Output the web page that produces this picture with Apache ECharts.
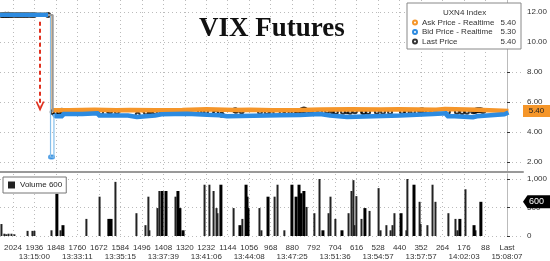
<!DOCTYPE html>
<html><head><meta charset="utf-8">
<script src="https://cdn.jsdelivr.net/npm/echarts@6/dist/echarts.min.js"></script>
<style>html,body{margin:0;padding:0;background:#fff}#c{width:550px;height:261px}</style>
</head><body><div id="c"></div>
<script>
// ---- tick labels ----
const tickLabels = [2024,1936,1848,1760,1672,1584,1496,1408,1320,1232,1144,1056,968,880,792,704,616,528,440,352,264,176,88,0];
const timeTicks = [1936,1760,1584,1408,1232,1056,880,704,528,352,176,0];
const timeTexts = ['13:15:00','13:33:11','13:35:15','13:37:39','13:41:06','13:44:08','13:47:25','13:51:36','13:54:57','13:57:57','14:02:03','15:08:07'];
const priceTicks = [2,4,6,8,10,12];
const volumeTicks = [0,500,1000];
const seriesNames = ['Ask Price - Realtime','Bid Price - Realtime','Last Price'];
const indexName = 'UXN4 Index';

// ---- price data: [ticks before last, price] ----
const askPre = [[2077,11.82],[1880,11.82]];
const askPost = [[1864,5.45],[1790,5.48],[1690,5.45],[1600,5.47],[1545,5.45],[1440,5.47],[1330,5.52],[1230,5.46],[1120,5.48],[1050,5.45],[960,5.47],[848,5.5],[760,5.52],[640,5.5],[520,5.52],[440,5.48],[290,5.54],[254,5.48],[125,5.40],[-6,5.40]];
const bidPre = [[2077,11.82],[1880,11.82]];
const bidSpike = [[1870,2.33],[1862,2.33]];
const bidPost = [[1856,5.2],[1850,5.05],[1820,5.2],[1740,5.25],[1674,5.1],[1553,5.0],[1516,5.1],[1442,5.18],[1415,5.22],[1311,5.15],[1229,5.12],[1176,5.05],[1147,5.12],[930,5.13],[848,5.2],[766,5.1],[725,5.0],[655,5.1],[438,5.2],[303,5.25],[246,5.05],[215,4.98],[140,5.05],[123,5.18],[10,5.3],[-6,5.3]];
const lastPre = [[2069,11.8],[2062,11.8],[2055,11.82],[2049,11.8],[2043,11.82],[2036,11.8],[2026,11.8],[2012,11.8],[2000,11.8],[1988,11.8],[1976,11.8],[1964,11.8],[1950,11.8],[1938,11.8],[1880,11.8]];
const lastPost = [[1861,5.33],[1848,5.3],[1835,5.35],[1824,5.42],[1819,5.4],[1778,5.38],[1722,5.35],[1663,5.3],[1630,5.38],[1626,5.38],[1598,5.35],[1513,5.15],[1479,5.3],[1463,5.4],[1458,5.4],[1442,5.33],[1415,5.35],[1381,5.35],[1360,5.4],[1356,5.38],[1333,5.33],[1312,5.35],[1258,5.35],[1245,5.35],[1233,5.35],[1196,5.3],[1192,5.3],[1169,5.15],[1114,5.45],[1110,5.42],[1087,5.38],[1012,5.35],[984,5.33],[964,5.25],[923,5.33],[902,5.33],[875,5.35],[856,5.38],[840,5.45],[832,5.5],[828,5.47],[807,5.38],[787,5.38],[766,5.38],[737,5.38],[713,5.35],[705,5.35],[701,5.33],[672,5.35],[655,5.38],[643,5.35],[623,5.38],[590,5.35],[586,5.33],[569,5.33],[533,5.35],[508,5.35],[479,5.33],[430,5.35],[410,5.33],[385,5.35],[356,5.42],[348,5.45],[336,5.4],[324,5.38],[303,5.33],[242,5.35],[205,5.35],[184,5.33],[164,5.35],[139,5.38],[131,5.4],[123,5.45],[115,5.45],[107,5.45],[98,5.4]];

// ---- volume data: [ticks before last, volume] ----
const volumeThin = [[2069,210],[2057,40],[2049,30],[2040,40],[2028,40],[2016,30],[1962,90],[1942,90],[1934,90],[1864,100],[1827,100],[1721,300],[1667,690],[1602,950],[1516,400],[1479,190],[1467,690],[1463,100],[1430,490],[1422,790],[1356,690],[1237,900],[1217,900],[1200,790],[1188,490],[1184,400],[1118,490],[1082,300],[1012,490],[1004,100],[950,690],[938,900],[910,100],[819,510],[787,400],[766,1000],[729,400],[721,690],[701,300],[647,400],[635,790],[627,980],[623,190],[615,700],[594,300],[561,440],[524,840],[516,100],[492,190],[475,100],[467,190],[459,400],[410,100],[406,1000],[356,600],[352,210],[324,190],[303,900],[291,600],[238,400],[209,300],[201,100],[168,820],[127,100]];
const volumeThick = [[1844,740],[1819,190],[1631,300],[1622,300],[1413,790],[1397,790],[1348,790],[1340,490],[1327,100],[1172,900],[1094,190],[1069,900],[1065,690],[1061,490],[979,690],[881,900],[864,690],[852,900],[844,750],[832,790],[754,100],[676,100],[582,490],[434,400],[381,900],[193,300],[135,190],[107,600]];

// ---- annotation (red dashed arrow) in data units ----
const arrowTick = 1913, arrowFrom = 11.35, arrowTo = 5.7;

const X_MIN = -65.5, X_MAX = 2077;
const FONT = 'Liberation Sans';
const ORANGE = '#f5962a', BLUE = '#2d8be0', LIGHTBLUE = '#86bfea';

const last = a => a[a.length - 1];
const legendValues = {
  'Ask Price - Realtime': last(askPost)[1].toFixed(2),
  'Bid Price - Realtime': last(bidPost)[1].toFixed(2),
  'Last Price': last(lastPost)[1].toFixed(2)
};
const volumeLast = last(volumeThick)[1];

const grid = {color:'#bbb', type:[1,3], width:1};
function lineS(name, data, color, width, extra) {
  return Object.assign({type:'line', name, data, step:'end', showSymbol:false, symbol:'none',
    lineStyle:{color, width}, itemStyle:{color}, xAxisIndex:0, yAxisIndex:0, silent:true, clip:false}, extra || {});
}
const labelBase = {hideOverlap:false, showMinLabel:true, showMaxLabel:true, fontSize:8, color:'#333', fontFamily:FONT};

const chart = echarts.init(document.getElementById('c'), null, {renderer:'canvas'});
chart.setOption({
  animation:false,
  backgroundColor:'#fff',
  textStyle:{fontFamily:FONT},
  title:[
    {text:'VIX Futures', left:199, top:16, padding:0,
     textStyle:{fontFamily:'Liberation Serif', fontWeight:'bold', fontSize:27, color:'#111'}},
    {text:indexName, left:443, top:9, padding:0, z:10,
     textStyle:{fontFamily:FONT, fontWeight:'normal', fontSize:8, color:'#333'}}
  ],
  legend:[
    {orient:'vertical', right:29, top:3, padding:[15,5,3,5], itemGap:0.5, itemWidth:4, itemHeight:4,
     icon:'emptyCircle', selectedMode:false, backgroundColor:'#fff', borderColor:'#888', borderWidth:1,
     itemStyle:{borderWidth:1},
     data:seriesNames,
     formatter: n => '{n|' + n + '}{v|' + legendValues[n] + '}',
     textStyle:{fontSize:8, color:'#333', lineHeight:9, fontFamily:FONT,
       rich:{n:{width:78, fontSize:8, color:'#333', fontFamily:FONT}, v:{width:16, align:'right', fontSize:8, color:'#333', fontFamily:FONT}}}},
    {left:3, top:177, padding:[4,4,4,5], itemWidth:7, itemHeight:7, icon:'rect', selectedMode:false,
     backgroundColor:'#fff', borderColor:'#777', borderWidth:1, data:['Volume'],
     formatter: () => 'Volume ' + volumeLast,
     textStyle:{fontSize:8, color:'#222', fontFamily:FONT}}
  ],
  grid:[
    {left:0, right:27, top:0, height:172},
    {left:0, right:27, top:174, height:62}
  ],
  xAxis:[
    {gridIndex:0, type:'value', inverse:true, min:X_MIN, max:X_MAX,
     axisLine:{show:true, onZero:false, lineStyle:{color:'#999', width:2}},
     axisTick:{show:false, customValues:tickLabels},
     axisLabel:{show:false, customValues:tickLabels},
     splitLine:{show:true, lineStyle:grid}},
    {gridIndex:1, type:'value', inverse:true, min:X_MIN, max:X_MAX,
     axisLine:{show:false, onZero:false},
     axisTick:{show:false, customValues:tickLabels},
     axisLabel:Object.assign({customValues:tickLabels, margin:8,
       formatter: v => (v === 0 ? 'Last' : String(v))}, labelBase),
     splitLine:{show:true, lineStyle:grid}},
    {gridIndex:1, type:'value', inverse:true, min:X_MIN, max:X_MAX, position:'bottom', offset:9,
     axisLine:{show:false, onZero:false},
     axisTick:{show:false, customValues:timeTicks},
     axisLabel:Object.assign({customValues:timeTicks, margin:8,
       formatter: v => timeTexts[timeTicks.indexOf(v)]}, labelBase),
     splitLine:{show:false}}
  ],
  yAxis:[
    {gridIndex:0, type:'value', position:'right', min:1.33333, max:12.8,
     axisLine:{show:true, lineStyle:{color:'#bbb'}},
     axisTick:{show:true, length:3, customValues:priceTicks, lineStyle:{color:'#333'}},
     axisLabel:{customValues:priceTicks, formatter:v => v.toFixed(2), fontSize:8, color:'#333', margin:4, fontFamily:FONT},
     splitLine:{show:true, lineStyle:grid}},
    {gridIndex:1, type:'value', position:'right', min:0, max:1088,
     axisLine:{show:true, lineStyle:{color:'#bbb'}},
     axisTick:{show:true, length:3, customValues:volumeTicks, lineStyle:{color:'#333'}},
     axisLabel:{customValues:volumeTicks, fontSize:8, color:'#333', margin:4, fontFamily:FONT},
     splitLine:{show:true, lineStyle:grid}}
  ],
  series:[
    lineS('Ask Price - Realtime', askPre, ORANGE, 4.5),
    lineS('Ask Price - Realtime', askPost, ORANGE, 4.5, {
      markPoint:{silent:true, symbol:'rect', symbolSize:[27,12], symbolOffset:[13.5,0],
        itemStyle:{color:ORANGE},
        label:{show:true, color:'#222', fontSize:8, fontFamily:FONT, formatter:p => p.value.toFixed(2)},
        data:[{coord:[X_MIN, last(askPost)[1]], value:last(askPost)[1]}]}
    }),
    lineS('Bid Price - Realtime', bidPre, BLUE, 4.5),
    lineS('Bid Price - Realtime', bidPost, BLUE, 4.5),
    lineS('askDrop', [last(askPre), askPost[0]], ORANGE, 1),
    lineS('bidDrop', [last(bidPre)].concat(bidSpike, [bidPost[0]]), LIGHTBLUE, 1.2),
    lineS('lastDrop', [last(lastPre), lastPost[0]], '#999', 2),
    {type:'scatter', name:'bidSpike', data:bidSpike, symbol:'circle', symbolSize:5,
     itemStyle:{color:BLUE}, xAxisIndex:0, yAxisIndex:0, silent:true},
    {type:'scatter', name:'Last Price', data:lastPre.concat(lastPost), symbol:'emptyCircle', symbolSize:4,
     itemStyle:{color:'#000', borderWidth:1}, xAxisIndex:0, yAxisIndex:0, silent:true, clip:false,
     markLine:{silent:true, symbol:['none','path://M0,10 L5,0 L10,10 L8,10 L5,4 L2,10 Z'], symbolSize:[9,10],
       lineStyle:{color:'#e0301e', width:2, type:[4,3]}, label:{show:false},
       data:[[{coord:[arrowTick, arrowFrom]},{coord:[arrowTick, arrowTo]}]]}},
    {type:'bar', name:'Volume', data:volumeThin, xAxisIndex:1, yAxisIndex:1, barWidth:2, barGap:'-100%',
     itemStyle:{color:'#222'}, silent:true},
    {type:'bar', name:'Volume', data:volumeThick, xAxisIndex:1, yAxisIndex:1, barWidth:3, barGap:'-100%',
     itemStyle:{color:'#000'}, silent:true, clip:false,
     markPoint:{silent:true, symbol:'path://M0,5 L5,0 L30,0 L30,10 L5,10 Z', symbolSize:[27,13], symbolOffset:[13.5,0],
       itemStyle:{color:'#000'},
       label:{show:true, color:'#fff', fontSize:9, fontFamily:FONT, formatter:p => String(p.value)},
       data:[{coord:[X_MIN, volumeLast], value:volumeLast}]}}
  ]
});
</script></body></html>
